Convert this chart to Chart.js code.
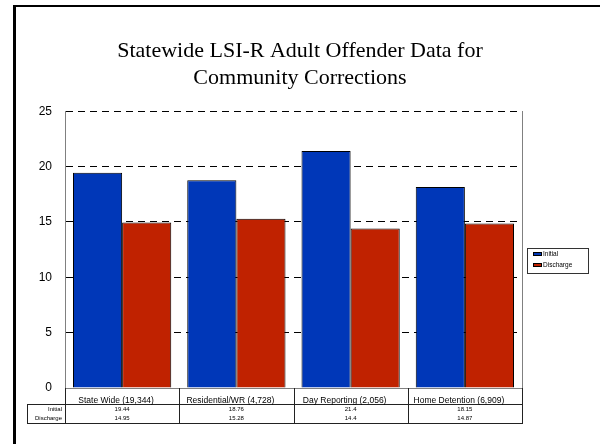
<!DOCTYPE html>
<html>
<head>
<meta charset="utf-8">
<title>Statewide LSI-R Adult Offender Data</title>
<script src="https://cdn.jsdelivr.net/npm/chart.js@4.4.1/dist/chart.umd.min.js"></script>
<style>
  html, body { margin: 0; padding: 0; background: #fff; overflow: hidden; }
  #wrap { position: relative; width: 600px; height: 444px; }
  #frame {
    position: absolute; left: 13px; top: 5px; width: 700px; height: 600px;
    border-left: 3px solid #000; border-top: 2px solid #000; pointer-events: none;
  }
  canvas { position: absolute; left: 0; top: 0; }
</style>
</head>
<body>
<div id="wrap">
  <canvas id="chart" width="600" height="444"></canvas>
  <div id="frame"></div>
</div>
<script>
// data
const categories = [
  "State Wide (19,344)",
  "Residential/WR (4,728)",
  "Day Reporting (2,056)",
  "Home Detention (6,909)",
];
const initialScores = [19.44, 18.76, 21.4, 18.15];
const dischargeScores = [14.95, 15.28, 14.4, 14.87];
const seriesNames = ["Initial", "Discharge"];
const yTicks = [0, 5, 10, 15, 20, 25];

const BLUE = "#0037b8";
const RED = "#c02200";
const SANS = "'Liberation Sans', Arial, sans-serif";

// data table under the x axis and the boxed legend on the right
const tablePlugin = {
  id: "dataTable",
  afterDraw(chart) {
    const ctx = chart.ctx;
    const area = chart.chartArea;
    const x = chart.scales.x;
    const colW = x.width / categories.length;
    const rows = [initialScores, dischargeScores];
    const headTop = area.bottom;
    const rowTop = headTop + 16;
    const rowH = 9.5;
    const tableBottom = rowTop + rowH * rows.length;
    const headLeft = area.left - 38;

    ctx.save();
    ctx.strokeStyle = "#222";
    ctx.lineWidth = 1;
    ctx.beginPath();
    // column boundaries
    for (let i = 0; i <= categories.length; i++) {
      const px = Math.round(area.left + i * colW) + 0.5;
      ctx.moveTo(px, headTop);
      ctx.lineTo(px, tableBottom);
    }
    ctx.moveTo(headLeft, rowTop + 0.5);
    ctx.lineTo(area.right + 1, rowTop + 0.5);
    ctx.moveTo(headLeft, tableBottom + 0.5);
    ctx.lineTo(area.right + 1, tableBottom + 0.5);
    ctx.moveTo(headLeft + 0.5, rowTop);
    ctx.lineTo(headLeft + 0.5, tableBottom);
    ctx.stroke();

    ctx.fillStyle = "#000";
    ctx.textAlign = "center";
    ctx.textBaseline = "middle";
    ctx.font = "8.5px " + SANS;
    categories.forEach((c, i) => {
      ctx.fillText(c, x.getPixelForValue(i) - 6, headTop + 13);
    });

    ctx.font = "6px " + SANS;
    rows.forEach((vals, r) => {
      const cy = rowTop + rowH * r + rowH / 2 + 0.5;
      ctx.textAlign = "right";
      ctx.fillText(seriesNames[r], area.left - 3, cy);
      ctx.textAlign = "center";
      vals.forEach((v, i) => ctx.fillText(String(v), x.getPixelForValue(i), cy));
    });

    // legend
    const lx = area.right + 5;
    const ly = 248;
    ctx.strokeStyle = "#333";
    ctx.strokeRect(lx + 0.5, ly + 0.5, 61, 25);
    ctx.font = "6.5px " + SANS;
    ctx.textAlign = "left";
    [BLUE, RED].forEach((col, i) => {
      const sy = ly + 4 + i * 11;
      ctx.fillStyle = col;
      ctx.fillRect(lx + 6, sy, 9, 4);
      ctx.strokeStyle = "#000";
      ctx.strokeRect(lx + 6.5, sy + 0.5, 8, 3);
      ctx.fillStyle = "#000";
      ctx.fillText(seriesNames[i], lx + 16, sy + 2.5);
    });
    ctx.restore();
  },
};

new Chart(document.getElementById("chart"), {
  type: "bar",
  data: {
    labels: categories,
    datasets: [
      {
        label: seriesNames[0],
        data: initialScores,
        backgroundColor: BLUE,
        borderColor: "#000",
        borderWidth: 1,
      },
      {
        label: seriesNames[1],
        data: dischargeScores,
        backgroundColor: RED,
        borderColor: "#000",
        borderWidth: 1,
      },
    ],
  },
  options: {
    responsive: false,
    animation: false,
    layout: { padding: 0 },
    datasets: { bar: { categoryPercentage: 0.86, barPercentage: 1 } },
    plugins: {
      legend: { display: false },
      tooltip: { enabled: false },
      title: {
        display: true,
        text: ["Statewide LSI-R Adult Offender Data for", "Community Corrections"],
        color: "#000",
        font: { family: "'Liberation Serif', 'Times New Roman', serif", size: 22, weight: "normal", lineHeight: 1.21 },
        padding: { top: 38, bottom: 20 },
      },
    },
    scales: {
      x: {
        ticks: { display: false },
        grid: { display: false, drawTicks: false },
        border: { display: true, color: "#808080" },
        afterFit: (scale) => { scale.height = 56; },
      },
      y: {
        min: 0,
        max: 25,
        afterBuildTicks: (scale) => { scale.ticks = yTicks.map((v) => ({ value: v })); },
        ticks: { color: "#000", padding: 13, font: { family: SANS, size: 12 } },
        grid: { color: "#000", drawTicks: false, tickLength: 0 },
        border: { display: true, color: "#808080", dash: [7, 5] },
        afterFit: (scale) => { scale.width = 65; },
      },
      // right edge of the plot; also reserves room for the legend box
      yRight: {
        position: "right",
        min: 0,
        max: 25,
        ticks: { display: false },
        grid: { display: false, drawTicks: false },
        border: { display: true, color: "#808080" },
        afterFit: (scale) => { scale.width = 78; },
      },
    },
  },
  plugins: [tablePlugin],
});
</script>
</body>
</html>
